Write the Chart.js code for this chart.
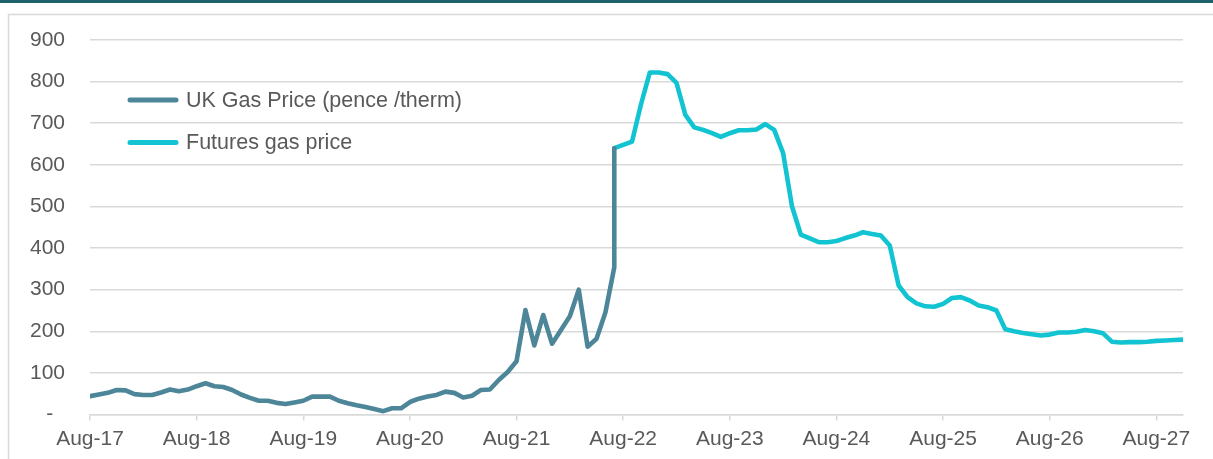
<!DOCTYPE html>
<html>
<head>
<meta charset="utf-8">
<script src="https://cdn.jsdelivr.net/npm/chart.js@4.4.1/dist/chart.umd.min.js"></script>
<style>
  html, body { margin: 0; padding: 0; background: #ffffff; }
  #wrap { width: 1213px; height: 459px; position: relative; }
  canvas { display: block; }
</style>
</head>
<body>
<div id="wrap"><canvas id="gas" width="1213" height="459"></canvas></div>
<script>
// Monthly axis: month 0 = Aug-17, one labelled tick every 12 months
const yearTickLabels = ['Aug-17', 'Aug-18', 'Aug-19', 'Aug-20', 'Aug-21', 'Aug-22',
                        'Aug-23', 'Aug-24', 'Aug-25', 'Aug-26', 'Aug-27'];
const lastMonth = 123; // Nov-27

// UK gas price, pence/therm, monthly from Aug-17 (month 0) to Jul-22 (month 59)
const ukGasPrice = [44, 48, 52, 59, 58, 49, 47, 47, 53, 60,
                    56, 60, 68, 75, 68, 66, 59, 48, 40, 33,
                    33, 28, 25, 29, 33, 43, 43, 43, 33, 27,
                    22, 18, 13, 8, 15, 15, 30, 38, 43, 47,
                    55, 52, 41, 45, 59, 60, 83, 102, 128, 251,
                    166, 239, 170, 203, 236, 300, 163, 182, 245, 354];

// Futures curve, monthly from Jul-22 (month 59) to Nov-27 (month 123)
const futuresStartMonth = 59;
const futuresGasPrice = [640, 648, 656, 745, 822, 822, 818, 797, 720, 690,
                         684, 676, 667, 676, 683, 683, 685, 698, 684, 628,
                         500, 432, 423, 414, 414, 417, 424, 430, 438, 434,
                         430, 406, 310, 282, 267, 260, 259, 266, 280, 282,
                         274, 262, 258, 250, 205, 200, 196, 193, 190, 192,
                         197, 197, 199, 203, 200, 195, 175, 173, 174, 174,
                         175, 177, 178, 179, 180];

const seriesNames = ['UK Gas Price (pence /therm)', 'Futures gas price'];
const seriesColors = ['#4e8699', '#12c4d2'];

const ukPoints = ukGasPrice.map((v, i) => ({ x: i, y: v }));
// the spot series joins the first futures quote
ukPoints.push({ x: futuresStartMonth, y: futuresGasPrice[0] });
const futuresPoints = futuresGasPrice.map((v, i) => ({ x: futuresStartMonth + i, y: v }));

const FONT = '"Liberation Sans", Arial, sans-serif';
const TEXT = '#595959';
const GRID = '#d9d9d9';

// frame: dark rule across the top and light border round the chart area
const framePlugin = {
  id: 'frame',
  beforeDraw(chart) {
    const ctx = chart.ctx;
    ctx.save();
    ctx.fillStyle = '#ffffff';
    ctx.fillRect(0, 0, chart.width, chart.height);
    ctx.fillStyle = '#1e606c';
    ctx.fillRect(0, 0, chart.width, 3);
    ctx.strokeStyle = GRID;
    ctx.lineWidth = 1.5;
    ctx.beginPath();
    ctx.moveTo(8.5, chart.height + 2);
    ctx.lineTo(8.5, 14.5);
    ctx.lineTo(chart.width + 2, 14.5);
    ctx.stroke();
    ctx.restore();
  }
};

// legend drawn inside the plot, upper left
const insideLegend = {
  id: 'insideLegend',
  afterDatasetsDraw(chart) {
    const ctx = chart.ctx;
    ctx.save();
    ctx.font = '21.5px ' + FONT;
    ctx.textBaseline = 'middle';
    ctx.textAlign = 'left';
    const rows = [100, 142.5];
    chart.data.datasets.forEach((ds, i) => {
      const y = rows[i];
      ctx.strokeStyle = ds.borderColor;
      ctx.lineWidth = 5;
      ctx.lineCap = 'round';
      ctx.beginPath();
      ctx.moveTo(130, y);
      ctx.lineTo(176, y);
      ctx.stroke();
      ctx.fillStyle = TEXT;
      ctx.fillText(ds.label, 186, y + 1);
    });
    ctx.restore();
  }
};

new Chart(document.getElementById('gas'), {
  type: 'line',
  data: {
    datasets: [
      { label: seriesNames[0], data: ukPoints, borderColor: seriesColors[0] },
      { label: seriesNames[1], data: futuresPoints, borderColor: seriesColors[1] }
    ]
  },
  options: {
    responsive: false,
    animation: false,
    devicePixelRatio: 1,
    layout: { padding: { left: 0, top: 40, right: 30, bottom: 0 } },
    elements: {
      line: { borderWidth: 4.6, tension: 0, borderJoinStyle: 'round', borderCapStyle: 'round', fill: false },
      point: { radius: 0, hoverRadius: 0 }
    },
    plugins: {
      legend: { display: false },
      tooltip: { enabled: false }
    },
    scales: {
      x: {
        type: 'linear',
        min: 0,
        max: lastMonth,
        afterFit(scale) { scale.height = 44.5; },
        grid: { drawOnChartArea: false, drawTicks: true, tickLength: 6, color: GRID, lineWidth: 1.5 },
        border: { display: true, color: GRID, width: 1.5 },
        ticks: {
          stepSize: 12,
          includeBounds: false,
          autoSkip: false,
          maxRotation: 0,
          padding: 6,
          color: TEXT,
          font: { family: FONT, size: 21 },
          callback: (v) => yearTickLabels[v / 12] ?? ''
        }
      },
      y: {
        min: 0,
        max: 900,
        afterFit(scale) { scale.width = 90; },
        grid: { color: GRID, lineWidth: 1.5, drawTicks: false },
        border: { display: false },
        ticks: {
          stepSize: 100,
          padding: 25,
          color: TEXT,
          font: { family: FONT, size: 21 },
          callback: (v) => (v === 0 ? '-  ' : String(v))
        }
      }
    }
  },
  plugins: [framePlugin, insideLegend]
});
</script>
</body>
</html>
